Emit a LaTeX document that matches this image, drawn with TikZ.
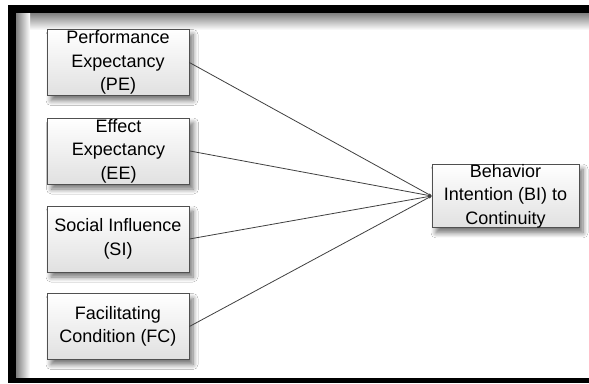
\documentclass[tikz,border=0pt]{standalone}
\usepackage{fontspec}
\setmainfont{Liberation Sans}
\usetikzlibrary{arrows.meta,shadows.blur}
\definecolor{boxline}{HTML}{505050}
\definecolor{linkc}{HTML}{404040}
\begin{document}
\begin{tikzpicture}[x=1pt,y=-1pt,
  box/.style={draw=boxline,line width=0.8pt,top color=white,bottom color=black!12,
    minimum width=142pt,minimum height=66pt,inner sep=0pt,align=center,
    font=\fontsize{18pt}{23.5pt}\selectfont,text=black,
    blur shadow={shadow xshift=4pt,shadow yshift=-5pt,shadow blur steps=8,shadow blur radius=5pt,shadow opacity=55}},
  link/.style={draw=linkc,line width=0.8pt,-{Stealth[length=3pt,width=3pt]}}]
\useasboundingbox (0,0) rectangle (589,383);
\fill[white] (0,0) rectangle (589,383);
% inner shading of frame
\shade[top color=black!50,bottom color=white] (16,13) rectangle (589,30);
\shade[left color=black!50,right color=white] (16,13) rectangle (30,378);
\fill[white] (30,30) rectangle (589,378);
% black frame
\fill[black] (8,5) rectangle (589,13);
\fill[black] (8,5) rectangle (16,383);
\fill[black] (8,378) rectangle (589,383);
% nodes
\node[box] (pe) at (118,62.5) {Performance\\Expectancy\\(PE)};
\node[box] (ee) at (118.5,151) {Effect\\Expectancy\\(EE)};
\node[box] (si) at (118,239) {Social Influence\\(SI)};
\node[box] (fc) at (118,326.5) {Facilitating\\Condition (FC)};
\node[box,minimum width=147pt,minimum height=62pt] (bi) at (505.5,196) {Behavior\\Intention (BI) to\\Continuity};
% links
\draw[link] (pe.east) -- (bi.west);
\draw[link] (ee.east) -- (bi.west);
\draw[link] (si.east) -- (bi.west);
\draw[link] (fc.east) -- (bi.west);
\end{tikzpicture}
\end{document}
